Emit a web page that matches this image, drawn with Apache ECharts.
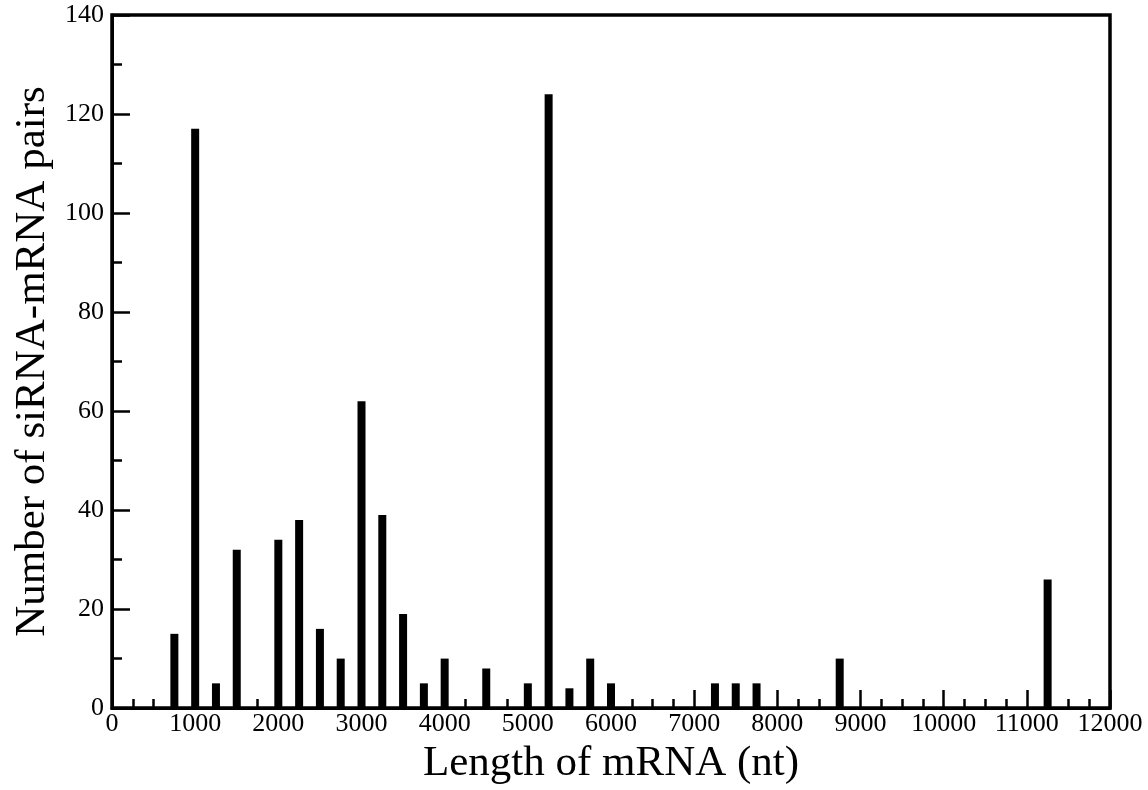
<!DOCTYPE html>
<html>
<head>
<meta charset="utf-8">
<script src="https://cdn.jsdelivr.net/npm/echarts@6/dist/echarts.min.js"></script>
<style>html,body{margin:0;padding:0;background:#fff}#c{width:1148px;height:790px}</style>
</head>
<body>
<div id="c"></div>
<script>
const lengths = [750, 1000, 1250, 1500, 2000, 2250, 2500, 2750, 3000, 3250, 3500, 3750, 4000, 4500, 5000, 5250, 5500, 5750, 6000, 7250, 7500, 7750, 8750, 11250];
const pairs   = [15, 117, 5, 32, 34, 38, 16, 10, 62, 39, 19, 5, 10, 8, 5, 124, 4, 10, 5, 5, 5, 5, 10, 26];
const xTitle = 'Length of mRNA (nt)';
const yTitle = 'Number of siRNA-mRNA pairs';

const font = 'Liberation Serif';
const chart = echarts.init(document.getElementById('c'), null, {renderer: 'canvas'});
chart.setOption({
  animation: false,
  backgroundColor: '#fff',
  grid: {left: 112, right: 38, top: 15, bottom: 77, show: true, borderColor: '#000', borderWidth: 3.5, backgroundColor: 'transparent'},
  xAxis: {
    type: 'value', min: 0, max: 12000, interval: 1000,
    name: xTitle, nameLocation: 'middle', nameGap: 30,
    nameTextStyle: {fontFamily: font, fontSize: 43, color: '#000'},
    axisLine: {show: true, lineStyle: {color: '#000', width: 3}},
    axisTick: {show: true, inside: true, length: 18, lineStyle: {color: '#000', width: 2.5}},
    minorTick: {show: true, splitNumber: 4, length: 9, lineStyle: {color: '#000', width: 2.5}},
    axisLabel: {fontFamily: font, fontSize: 26, color: '#000', margin: 3, formatter: v => String(v)},
    splitLine: {show: false}
  },
  yAxis: {
    type: 'value', min: 0, max: 140, interval: 20,
    name: yTitle, nameLocation: 'middle', nameGap: 44,
    nameTextStyle: {fontFamily: font, fontSize: 43, color: '#000'},
    axisLine: {show: true, lineStyle: {color: '#000', width: 3}},
    axisTick: {show: true, inside: true, length: 18, lineStyle: {color: '#000', width: 2.5}},
    minorTick: {show: true, splitNumber: 2, length: 10, lineStyle: {color: '#000', width: 2.5}},
    axisLabel: {fontFamily: font, fontSize: 26, color: '#000', margin: 8, formatter: v => String(v)},
    splitLine: {show: false}
  },
  series: [{
    type: 'bar',
    barWidth: 8,
    itemStyle: {color: '#000'},
    data: lengths.map((l, i) => [l, pairs[i]])
  }]
});
</script>
</body>
</html>
